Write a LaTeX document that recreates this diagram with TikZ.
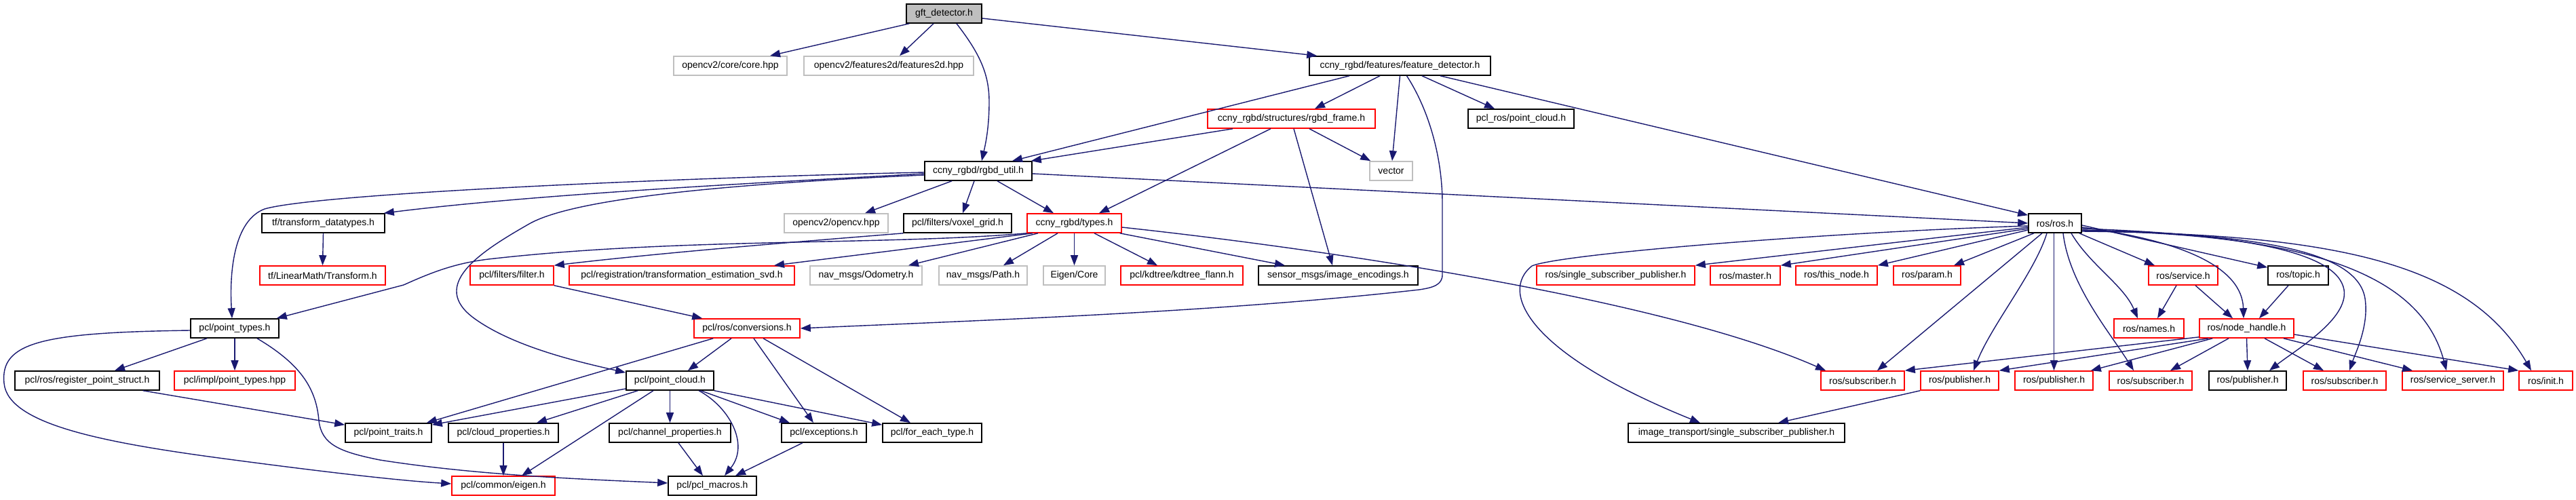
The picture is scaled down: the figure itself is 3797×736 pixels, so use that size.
\documentclass[tikz,border=0pt]{standalone}
\usepackage{fontspec}
\setmainfont{Liberation Sans}
\usetikzlibrary{arrows.meta}
\definecolor{edgeblue}{HTML}{191970}
\definecolor{boxgrey}{HTML}{BFBFBF}
\definecolor{boxred}{HTML}{FF0000}
\newcommand\dgfont{\fontsize{14pt}{16pt}\selectfont}
\tikzset{
  box/.style={draw, line width=1.6pt, minimum height=28pt, inner sep=0pt, font=\dgfont, anchor=center},
  greybox/.style={box, draw=boxgrey},
  blackbox/.style={box, draw=black},
  redbox/.style={box, draw=boxred},
  rootbox/.style={box, draw=black, fill=boxgrey},
  dep/.style={draw=edgeblue, line width=1.4pt, -{Triangle[length=15pt,width=11pt]}},
}
\begin{document}
\begin{tikzpicture}[x=1pt,y=-1pt]
\path[use as bounding box, fill=white] (0,0) rectangle (3797,736);
% row 0
\node[rootbox, minimum width=111pt] (root) at (1391.5,20) {gft\_detector.h};
% row 1
\node[greybox, minimum width=167pt] (core) at (1076.5,97) {opencv2/core/core.hpp};
\node[greybox, minimum width=250pt] (ftd) at (1310,97) {opencv2/features2d/features2d.hpp};
\node[blackbox, minimum width=267pt] (fd) at (2063.5,97) {ccny\_rgbd/features/feature\_detector.h};
% row 2
\node[redbox, minimum width=247pt] (frame) at (1903.5,175) {ccny\_rgbd/structures/rgbd\_frame.h};
\node[blackbox, minimum width=156pt] (pclros) at (2242,175) {pcl\_ros/point\_cloud.h};
% row 3
\node[blackbox, minimum width=158pt] (util) at (1442,252) {ccny\_rgbd/rgbd\_util.h};
\node[greybox, minimum width=63pt] (vec) at (2050.5,252) {vector};
% row 4
\node[blackbox, minimum width=181pt] (tfdt) at (476.5,329) {tf/transform\_datatypes.h};
\node[greybox, minimum width=153pt] (ocv) at (1232.5,329) {opencv2/opencv.hpp};
\node[blackbox, minimum width=159pt] (voxel) at (1411.5,329) {pcl/filters/voxel\_grid.h};
\node[redbox, minimum width=139pt] (types) at (1583.5,329) {ccny\_rgbd/types.h};
\node[blackbox, minimum width=78pt] (ros) at (3029,329) {ros/ros.h};
% row 5
\node[redbox, minimum width=185pt] (tflm) at (475.5,406) {tf/LinearMath/Transform.h};
\node[redbox, minimum width=123pt] (filter) at (754.5,406) {pcl/filters/filter.h};
\node[redbox, minimum width=332pt] (svd) at (1005,406) {pcl/registration/transformation\_estimation\_svd.h};
\node[greybox, minimum width=165pt] (odom) at (1276.5,406) {nav\_msgs/Odometry.h};
\node[greybox, minimum width=130pt] (path) at (1449,406) {nav\_msgs/Path.h};
\node[greybox, minimum width=91pt] (eigencore) at (1583.5,406) {Eigen/Core};
\node[redbox, minimum width=180pt] (kdtree) at (1742,406) {pcl/kdtree/kdtree\_flann.h};
\node[blackbox, minimum width=235pt] (imgenc) at (1972.5,406) {sensor\_msgs/image\_encodings.h};
\node[redbox, minimum width=233pt] (ssp) at (2381.5,406) {ros/single\_subscriber\_publisher.h};
\node[redbox, minimum width=103pt] (master) at (2572.5,406) {ros/master.h};
\node[redbox, minimum width=120pt] (thisnode) at (2707,406) {ros/this\_node.h};
\node[redbox, minimum width=99pt] (param) at (2840.5,406) {ros/param.h};
\node[redbox, minimum width=102pt] (service) at (3218,406) {ros/service.h};
\node[blackbox, minimum width=89pt] (topic) at (3387.5,406) {ros/topic.h};
% row 6
\node[blackbox, minimum width=130pt] (pointtypes) at (346,484) {pcl/point\_types.h};
\node[redbox, minimum width=156pt] (conv) at (1101,484) {pcl/ros/conversions.h};
\node[redbox, minimum width=103pt] (names) at (3167.5,484) {ros/names.h};
\node[redbox, minimum width=139pt] (nh) at (3311.5,484) {ros/node\_handle.h};
% row 7
\node[blackbox, minimum width=213pt] (rps) at (128.5,561) {pcl/ros/register\_point\_struct.h};
\node[redbox, minimum width=178pt] (impl) at (346,561) {pcl/impl/point\_types.hpp};
\node[blackbox, minimum width=129pt] (pc) at (987.5,561) {pcl/point\_cloud.h};
\node[redbox, minimum width=123pt] (sub1) at (2745.5,561) {ros/subscriber.h};
\node[redbox, minimum width=115pt] (pub1) at (2888.5,561) {ros/publisher.h};
\node[redbox, minimum width=115pt] (pub2) at (3027.5,561) {ros/publisher.h};
\node[redbox, minimum width=122pt] (sub2) at (3170,561) {ros/subscriber.h};
\node[blackbox, minimum width=114pt] (pub3) at (3313,561) {ros/publisher.h};
\node[redbox, minimum width=122pt] (sub3) at (3456,561) {ros/subscriber.h};
\node[redbox, minimum width=149pt] (srv) at (3615.5,561) {ros/service\_server.h};
\node[redbox, minimum width=79pt] (init) at (3752.5,561) {ros/init.h};
% row 8
\node[blackbox, minimum width=127pt] (traits) at (572.5,638) {pcl/point\_traits.h};
\node[blackbox, minimum width=162pt] (cloudp) at (742,638) {pcl/cloud\_properties.h};
\node[blackbox, minimum width=179pt] (chanp) at (987.5,638) {pcl/channel\_properties.h};
\node[blackbox, minimum width=125pt] (exc) at (1214.5,638) {pcl/exceptions.h};
\node[blackbox, minimum width=146pt] (fet) at (1374,638) {pcl/for\_each\_type.h};
\node[blackbox, minimum width=319pt] (its) at (2559.5,638) {image\_transport/single\_subscriber\_publisher.h};
% row 9
\node[redbox, minimum width=152pt] (eigen) at (742,716) {pcl/common/eigen.h};
\node[blackbox, minimum width=130pt] (macros) at (1050,716) {pcl/pcl\_macros.h};

% gft_detector.h
\draw[dep] ([xshift=5pt]root.south west) -- ([xshift=58.5pt]core.north);
\draw[dep] ([xshift=-15.5pt]root.south) -- ([xshift=16pt]ftd.north);
\draw[dep] ([xshift=18.5pt]root.south) .. controls (1445,80) and (1458,110) .. (1458,150) .. controls (1458,190) and (1452,215) .. ([xshift=5pt]util.north);
\draw[dep] ([yshift=-7pt]root.east) -- ([xshift=12pt]fd.north west);
% feature_detector.h
\draw[dep] ([xshift=-74.5pt]fd.south) -- ([xshift=50pt]util.north);
\draw[dep] ([xshift=-29.5pt]fd.south) -- ([xshift=34.5pt]frame.north);
\draw[dep] (fd.south) -- ([xshift=1.5pt]vec.north);
\draw[dep] ([xshift=10pt]fd.south) .. controls (2105,160) and (2126,230) .. (2126,300) -- (2126,405) .. controls (2126,420) and (2112,424) .. (2092,427) .. controls (1800,460) and (1450,472) .. (conv.east);
\draw[dep] ([xshift=32.5pt]fd.south) -- ([xshift=-39pt]pclros.north);
\draw[dep] ([xshift=59.5pt]fd.south) -- ([yshift=-3pt]ros.north west);
% rgbd_frame.h
\draw[dep] ([xshift=-86.5pt]frame.south) -- ([xshift=-2pt]util.north east);
\draw[dep] ([xshift=-30.5pt]frame.south) -- ([xshift=36.5pt]types.north);
\draw[dep] ([xshift=26.5pt]frame.south) -- ([xshift=2pt]vec.north west);
\draw[dep] ([xshift=3.5pt]frame.south) -- ([xshift=-8.5pt]imgenc.north);
% rgbd_util.h
\draw[dep] ([xshift=-39pt]util.south) -- ([xshift=42.5pt]ocv.north);
\draw[dep] ([xshift=-6pt]util.south) -- ([xshift=7.5pt]voxel.north);
\draw[dep] ([xshift=28pt]util.south) -- ([xshift=-30.5pt]types.north);
\draw[dep] ([yshift=-4pt]util.east) -- (ros.west);
\draw[dep] ([yshift=-4pt]util.west) .. controls (1150,268) and (800,285) .. ([xshift=-2pt]tfdt.north east);
\draw[dep] ([yshift=-2pt]util.west) .. controls (1000,262) and (470,285) .. (390,308) .. controls (345,325) and (338,400) .. ([xshift=-4pt]pointtypes.north);
\draw[dep] ([yshift=-6pt]util.west) .. controls (1100,270) and (850,290) .. (780,330) .. controls (710,370) and (630,420) .. (700,470) .. controls (760,513) and (860,535) .. ([yshift=-3pt]pc.north west);
% types.h
\draw[dep] (types.south west) .. controls (1300,362) and (1000,350) .. (720,382) .. controls (670,388) and (635,402) .. (595,420) -- ([xshift=-4pt]pointtypes.north east);
\draw[dep] ([xshift=-61.5pt]types.south) -- ([xshift=136pt]svd.north);
\draw[dep] ([xshift=-53.5pt]types.south) -- ([xshift=62.5pt]odom.north);
\draw[dep] ([xshift=-24.5pt]types.south) -- ([xshift=30pt]path.north);
\draw[dep] (types.south) -- (eigencore.north);
\draw[dep] ([xshift=29.5pt]types.south) -- ([xshift=-36pt]kdtree.north);
\draw[dep] ([xshift=-3pt]types.south east) -- ([xshift=-78.5pt]imgenc.north);
\draw[dep] ([yshift=-6pt]types.east) .. controls (1950,367) and (2450,440) .. ([xshift=-54.5pt]sub1.north);
% voxel_grid.h, filter.h
\draw[dep] (voxel.south west) .. controls (1180,356) and (980,372) .. (filter.north east);
\draw[dep] (filter.south east) -- ([xshift=13pt]conv.north west);
% conversions.h
\draw[dep] ([xshift=29pt]conv.south west) -- ([xshift=-8pt]traits.north east);
\draw[dep] ([xshift=-23pt]conv.south) -- ([xshift=26.5pt]pc.north);
\draw[dep] ([xshift=10pt]conv.south) -- ([xshift=-15.5pt]exc.north);
\draw[dep] ([xshift=24pt]conv.south) -- ([xshift=-32pt]fet.north);
% point_cloud.h
\draw[dep] ([yshift=-12pt]pc.west) -- ([yshift=-3pt]traits.north east);
\draw[dep] ([xshift=18pt]pc.south west) -- ([xshift=49pt]cloudp.north);
\draw[dep] (pc.south) -- (chanp.north);
\draw[dep] ([xshift=-24.5pt]pc.south) -- ([xshift=27pt]eigen.north);
\draw[dep] ([xshift=42.5pt]pc.south) .. controls (1075,600) and (1105,655) .. ([xshift=18pt]macros.north);
\draw[dep] ([xshift=45.5pt]pc.south) -- ([xshift=-50.5pt]exc.north);
\draw[dep] (pc.south east) -- ([yshift=-3pt]fet.north west);
\draw[dep] ([xshift=12.5pt]chanp.south) -- ([xshift=-14pt]macros.north);
\draw[dep] ([xshift=-31.5pt]exc.south) -- ([xshift=34pt]macros.north);
\draw[dep] (cloudp.south) -- (eigen.north);
% point_types.h
\draw[dep] ([xshift=-41pt]pointtypes.south) -- ([xshift=40.5pt]rps.north);
\draw[dep] (pointtypes.south) -- (impl.north);
\draw[dep] ([yshift=-3pt]pointtypes.west) .. controls (60,490) and (0,505) .. (6,565) .. controls (12,625) and (150,652) .. (330,676) .. controls (450,692) and (580,708) .. ([yshift=3pt]eigen.west);
\draw[dep] ([xshift=33pt]pointtypes.south) .. controls (440,535) and (466,570) .. (470,620) .. controls (474,655) and (500,666) .. (560,678) .. controls (700,700) and (850,706) .. ([yshift=4pt]macros.west);
\draw[dep] ([xshift=-25pt]rps.south east) -- ([yshift=-3pt]traits.north west);
\draw[dep] (tfdt.south) -- (tflm.north);
% ros/ros.h
\draw[dep] ([yshift=-6pt]ros.west) -- (ssp.north east);
\draw[dep] ([yshift=-8pt]ros.west) -- (master.north east);
\draw[dep] ([yshift=-10pt]ros.west) -- (thisnode.north east);
\draw[dep] ([xshift=-31pt]ros.south) -- ([xshift=39.5pt]param.north);
\draw[dep] ([yshift=-4pt]ros.west) .. controls (2700,342) and (2300,374) .. (2258,392) .. controls (2210,430) and (2250,520) .. ([xshift=-53.5pt]its.north);
\draw[dep] ([xshift=-19pt]ros.south) -- ([xshift=21.5pt]sub1.north);
\draw[dep] ([xshift=-12pt]ros.south) .. controls (3000,400) and (2935,480) .. ([xshift=20.5pt]pub1.north);
\draw[dep] ([xshift=-1.5pt]ros.south) -- (pub2.north);
\draw[dep] ([xshift=12pt]ros.south) .. controls (3050,420) and (3110,490) .. ([xshift=-25pt]sub2.north);
\draw[dep] ([xshift=24pt]ros.south) .. controls (3080,390) and (3130,420) .. ([xshift=-16.5pt]names.north);
\draw[dep] ([xshift=-4pt]ros.south east) -- ([xshift=-42pt]service.north);
\draw[dep] ([yshift=-3pt]ros.east) -- ([yshift=-3pt]topic.north west);
\draw[dep] ([yshift=-6pt]ros.east) .. controls (3220,355) and (3305,395) .. ([xshift=-4.5pt]nh.north);
\draw[dep] ([yshift=-8pt]ros.east) .. controls (3300,345) and (3445,370) .. (3455,427) .. controls (3462,470) and (3385,515) .. ([xshift=32pt]pub3.north);
\draw[dep] ([yshift=-10pt]ros.east) .. controls (3330,345) and (3475,370) .. (3486,440) .. controls (3492,480) and (3472,520) .. ([xshift=7pt]sub3.north);
\draw[dep] ([yshift=-11pt]ros.east) .. controls (3420,345) and (3570,410) .. ([xshift=-9.5pt]srv.north);
\draw[dep] ([yshift=-12pt]ros.east) .. controls (3450,345) and (3640,390) .. ([xshift=-21.5pt]init.north);
% service.h, topic.h
\draw[dep] ([xshift=-10pt]service.south) -- ([xshift=12.5pt]names.north);
\draw[dep] ([xshift=18pt]service.south) -- ([xshift=-20.5pt]nh.north);
\draw[dep] ([xshift=-14.5pt]topic.south) -- ([xshift=18.5pt]nh.north);
% node_handle.h
\draw[dep] ([yshift=2pt]nh.south west) -- (sub1.north east);
\draw[dep] ([xshift=14pt]nh.south west) -- (pub1.north east);
\draw[dep] ([xshift=20pt]nh.south west) -- ([xshift=-4pt]pub2.north east);
\draw[dep] ([xshift=-26.5pt]nh.south) -- ([xshift=29pt]sub2.north);
\draw[dep] (nh.south) -- (pub3.north);
\draw[dep] ([xshift=26.5pt]nh.south) -- ([xshift=-31pt]sub3.north);
\draw[dep] ([xshift=54.5pt]nh.south) -- ([xshift=-59.5pt]srv.north);
\draw[dep] ([yshift=-9pt]nh.east) -- (init.north west);
% publisher.h
\draw[dep] (pub1.south west) -- ([xshift=61.5pt]its.north);
\end{tikzpicture}
\end{document}
